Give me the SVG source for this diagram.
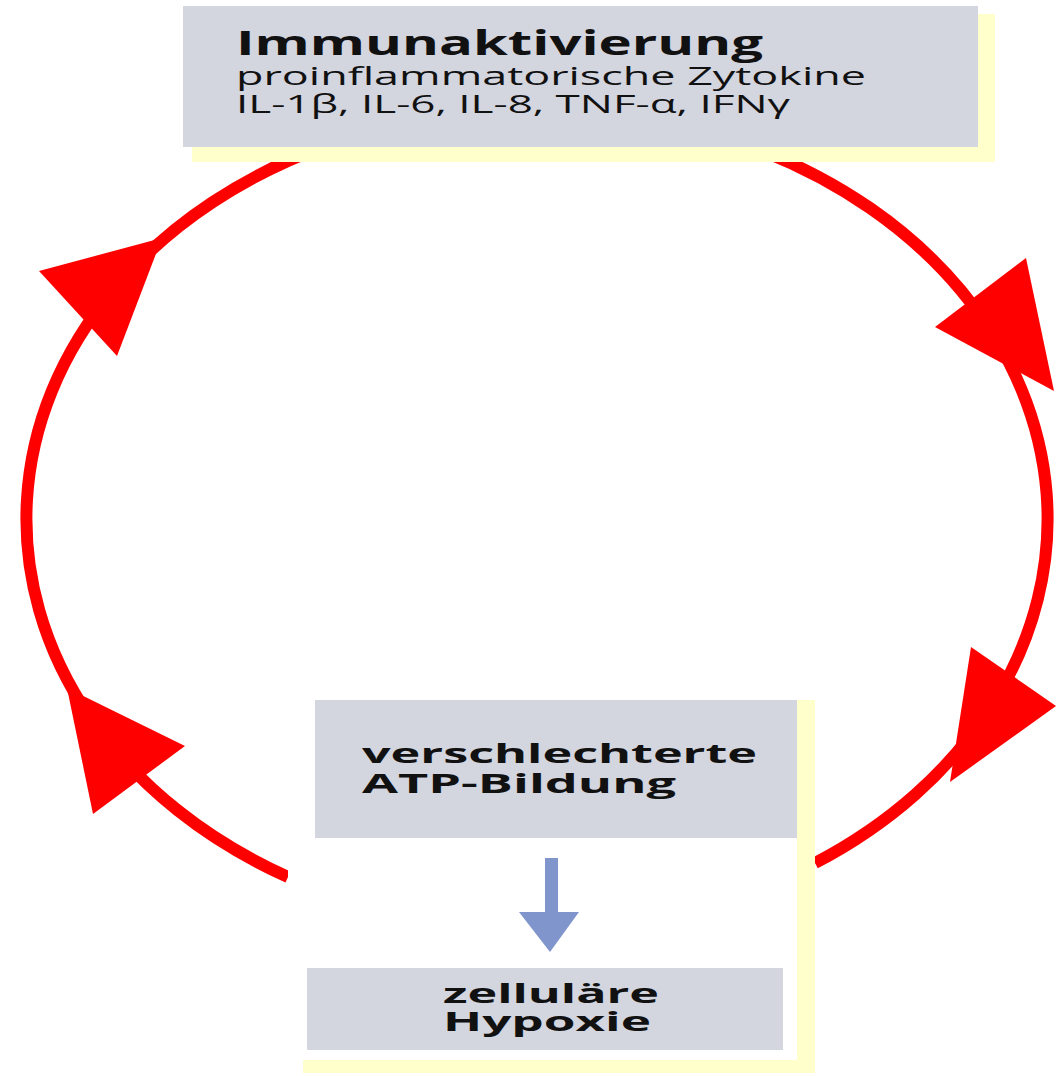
<svg xmlns="http://www.w3.org/2000/svg" width="1056" height="1076" viewBox="0 0 1056 1076">
<style>
.arc{fill:none;stroke:#FF0000;stroke-width:12}
.head{fill:#FF0000}
.shadow{fill:#FFFFCC}
.box{fill:#D3D5DF}
.t{font-family:"Open Sans","Liberation Sans",sans-serif;fill:#111}
.b{font-weight:bold}
</style>
<rect width="1056" height="1076" fill="#FFFFFF"/>
<g id="connectors">
<path class="arc" d="M 288 877 A 510 410 0 0 1 330 144"/>
<path class="arc" d="M 760 150 A 510 410 0 0 1 815 863"/>
<polygon class="head" points="162,238 39,271 117,356"/>
<polygon class="head" points="67,688 185,746 93,814"/>
<polygon class="head" points="1054,391 1026,258 935,327"/>
<polygon class="head" points="950,782 971,647 1056,706"/>
</g>
<g id="immunaktivierung">
<rect class="shadow" x="192" y="14" width="803" height="148"/>
<rect class="box" x="183" y="6" width="795" height="141"/>
<text class="t b" x="236" y="55" font-size="34" textLength="527" lengthAdjust="spacingAndGlyphs">Immunaktivierung</text>
<text class="t" x="236" y="85" font-size="26" textLength="630" lengthAdjust="spacingAndGlyphs">proinflammatorische Zytokine</text>
<text class="t" x="236" y="113" font-size="26" textLength="554" lengthAdjust="spacingAndGlyphs">IL-1β, IL-6, IL-8, TNF-α, IFNγ</text>
</g>
<g id="atp-hypoxie">
<rect class="shadow" x="303" y="700" width="512" height="373"/>
<rect fill="#FFFFFF" x="288" y="688" width="509" height="372"/>
<rect class="box" x="315" y="700" width="482" height="138"/>
<text class="t b" x="362" y="763" font-size="27" textLength="395" lengthAdjust="spacingAndGlyphs">verschlechterte</text>
<text class="t b" x="362" y="793" font-size="27" textLength="314" lengthAdjust="spacingAndGlyphs">ATP-Bildung</text>
<rect x="545" y="858" width="13" height="58" fill="#7F95CC"/>
<polygon points="519,912 579,912 550,952" fill="#7F95CC"/>
<rect class="box" x="307" y="968" width="476" height="82"/>
<text class="t b" x="443" y="1003" font-size="27" textLength="216" lengthAdjust="spacingAndGlyphs">zelluläre</text>
<text class="t b" x="443" y="1031" font-size="27" textLength="208" lengthAdjust="spacingAndGlyphs">Hypoxie</text>
</g>
</svg>
